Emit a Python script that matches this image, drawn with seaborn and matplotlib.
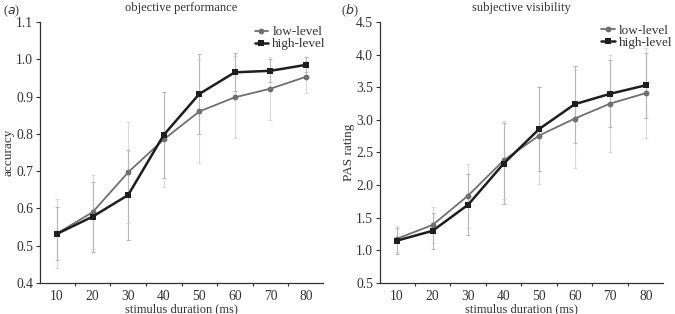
import matplotlib
matplotlib.use("Agg")
import matplotlib.pyplot as plt
import seaborn as sns
import pandas as pd
import numpy as np

durations = [10, 20, 30, 40, 50, 60, 70, 80]

acc_low = [0.533, 0.590, 0.697, 0.785, 0.860, 0.898, 0.921, 0.953]
acc_high = [0.532, 0.578, 0.636, 0.797, 0.907, 0.965, 0.969, 0.985]
acc_low_err = [0.093, 0.10, 0.136, 0.127, 0.139, 0.11, 0.084, 0.043]
acc_high_err = [0.071, 0.094, 0.122, 0.116, 0.107, 0.051, 0.031, 0.02]

pas_low = [1.18, 1.39, 1.84, 2.38, 2.76, 3.02, 3.25, 3.41]
pas_high = [1.15, 1.30, 1.70, 2.33, 2.86, 3.24, 3.40, 3.53]
pas_low_err = [0.20, 0.28, 0.49, 0.60, 0.75, 0.75, 0.75, 0.69]
pas_high_err = [0.20, 0.28, 0.47, 0.62, 0.64, 0.59, 0.51, 0.50]

series = ["low-level", "high-level"]

sns.set_theme(style="ticks")
plt.rcParams["font.family"] = ["Liberation Serif", "DejaVu Serif"]

fig = plt.figure(figsize=(6.75, 3.14), dpi=100)
ax1 = fig.add_axes([0.0593, 0.0987, 0.4192, 0.8313])
ax2 = fig.add_axes([0.563, 0.0987, 0.419, 0.8313])

palette = {"low-level": "#707070", "high-level": "#1e1e1e"}


def panel(ax, low, high, low_err, high_err, ylim, yticks, ylabel, title, tag, leg_anchor, tag_x):
    df = pd.DataFrame({
        "duration": durations * 2,
        "value": list(low) + list(high),
        "series": ["low-level"] * len(durations) + ["high-level"] * len(durations),
    })
    ax.errorbar(durations, low, yerr=low_err, fmt="none", ecolor="#dadada",
                elinewidth=0.8, capsize=1.5, capthick=0.8, linestyle=":", zorder=1)
    ax.errorbar(durations, high, yerr=high_err, fmt="none", ecolor="#b8b8b8",
                elinewidth=0.8, capsize=1.5, capthick=0.8, zorder=1)
    sns.lineplot(data=df[df.series == "low-level"], x="duration", y="value",
                 color=palette["low-level"], marker="o", markersize=4.2,
                 markeredgewidth=0, linewidth=1.3, ax=ax, label="low-level", zorder=3)
    sns.lineplot(data=df[df.series == "high-level"], x="duration", y="value",
                 color=palette["high-level"], marker="s", markersize=4.8,
                 markeredgewidth=0, linewidth=1.8, ax=ax, label="high-level", zorder=4)
    ax.set_xlim(5.2, 84.8)
    ax.set_ylim(*ylim)
    ax.set_yticks(yticks)
    ax.set_yticklabels([f"{t:.1f}" for t in yticks])
    ax.set_xticks(durations)
    ax.set_xticks([15, 25, 35, 45, 55, 65, 75], minor=True)
    ax.tick_params(axis="x", which="major", length=0, labelsize=9.8, pad=5, colors="#333333")
    ax.tick_params(axis="x", which="minor", length=2.5, width=0.8, direction="out", color="#333333")
    ax.tick_params(axis="y", which="major", length=3, width=0.8, labelsize=9.8, colors="#333333", pad=2)
    for s in ["top", "right"]:
        ax.spines[s].set_visible(False)
    for s in ["left", "bottom"]:
        ax.spines[s].set_color("#333333")
        ax.spines[s].set_linewidth(0.9)
    ax.set_xlabel("stimulus duration (ms)", fontsize=9, color="#333333", labelpad=0)
    ax.set_ylabel(ylabel, fontsize=9.5, color="#333333", labelpad=1)
    ax.set_title(title, fontsize=9, color="#333333", pad=8)
    leg = ax.legend(loc="upper right", frameon=False, fontsize=9.5, handlelength=1.0,
                    handletextpad=0.35, labelspacing=0.0, borderaxespad=0.0, borderpad=0.0,
                    bbox_to_anchor=leg_anchor)
    for t in leg.get_texts():
        t.set_color("#333333")
    fig.text(tag_x, 0.955, tag, fontsize=9, color="#333333")


panel(ax1, acc_low, acc_high, acc_low_err, acc_high_err, (0.4, 1.1),
      [0.4, 0.5, 0.6, 0.7, 0.8, 0.9, 1.0, 1.1], "accuracy", "objective performance", "($a$)",
      (1.01, 0.985), 0.004)
panel(ax2, pas_low, pas_high, pas_low_err, pas_high_err, (0.5, 4.5),
      [0.5, 1.0, 1.5, 2.0, 2.5, 3.0, 3.5, 4.0, 4.5], "PAS rating", "subjective visibility", "($b$)",
      (1.035, 0.99), 0.505)

fig.savefig("out.png", dpi=100)
